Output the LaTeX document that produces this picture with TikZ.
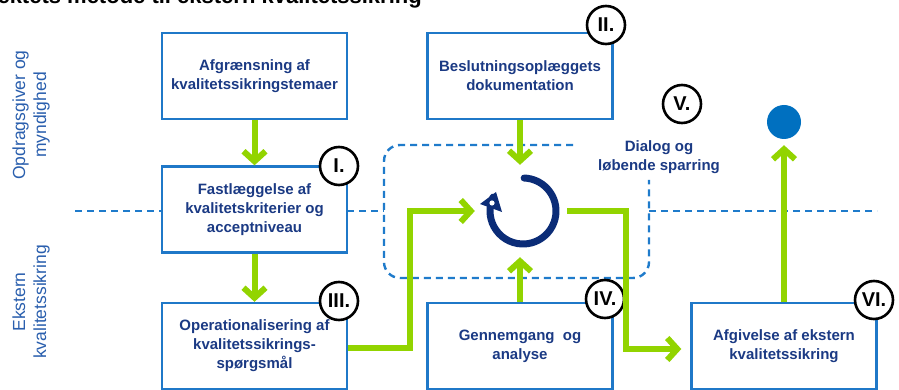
\documentclass[tikz,border=0pt]{standalone}
\usepackage{fontspec}
\setmainfont{Liberation Sans}
\usetikzlibrary{arrows.meta,calc}
\definecolor{boxblue}{HTML}{1F78C8}
\definecolor{dashblue}{HTML}{1F7BCB}
\definecolor{navytext}{HTML}{1B3A84}
\definecolor{navy}{HTML}{0B2C77}
\definecolor{lime}{HTML}{92D400}
\definecolor{sideblue}{HTML}{2A5FAE}
\definecolor{dotblue}{HTML}{0070C0}
\tikzset{
  stepbox/.style={draw=boxblue, line width=2.4pt, fill=white, minimum width=185pt,
    minimum height=86pt, inner sep=0pt, align=center, text=navytext,
    font=\bfseries\fontsize{15}{19}\selectfont},
  numlabel/.style={circle, draw=black, line width=2.6pt, fill=white, minimum size=38pt,
    inner sep=0pt, font=\bfseries\fontsize{20}{22}\selectfont},
  flow/.style={draw=lime, line width=6pt, -{Straight Barb[length=10pt,width=22pt]}},
  dline/.style={draw=dashblue, line width=2.4pt, dash pattern=on 7pt off 5pt},
  side/.style={rotate=90, align=center, text=sideblue, font=\fontsize{17.5}{21}\selectfont},
}
\begin{document}
\begin{tikzpicture}[x=1pt,y=-1pt]
\useasboundingbox (0,0) rectangle (899,390);
\clip (0,0) rectangle (899,390);
\fill[white] (0,0) rectangle (899,390);

% title (cut off at the top, as in the reference)
\node[anchor=base east, inner sep=0pt, font=\bfseries\fontsize{22}{24}\selectfont] (title) at (422,3.5) {Projektets metode til ekstern kvalitetssikring};

% side labels
\node[side] (sidetop) at (31,115) {Opdragsgiver og\\myndighed};
\node[side] (sidebot) at (31,302) {Ekstern\\kvalitetssikring};

% dashed lines
\coordinate (dl0) at (75,211);
\coordinate (dl1) at (162,211);
\coordinate (dl2) at (347,211);
\coordinate (dl3) at (384,211);
\coordinate (dl4) at (649,211);
\coordinate (dl5) at (877,211);
\draw[dline] (dl0) -- (dl1);
\draw[dline] (dl2) -- (dl3);
\draw[dline] (dl4) -- (dl5);
\coordinate (rr0) at (573,145);
\coordinate (rr1) at (384,278);
\coordinate (rr2) at (649,180);
\draw[dline, rounded corners=16pt] (rr0) -| (rr1) -| (rr2);

% boxes
\node[stepbox] (bA) at (254.5,76) {Afgrænsning af\\kvalitetssikringstemaer};
\node[stepbox] (b1) at (254.5,209.5) {Fastlæggelse af\\kvalitetskriterier og\\acceptniveau};
\node[stepbox] (b3) at (254.5,346) {Operationalisering af\\kvalitetssikrings-\\spørgsmål};
\node[stepbox] (b2) at (520,76) {Beslutningsoplæggets\\dokumentation};
\node[stepbox] (b4) at (520,346) {Gennemgang\ \ og\\analyse};
\node[stepbox] (b6) at (784,346) {Afgivelse af ekstern\\kvalitetssikring};

% dialog text
\node[align=center, text=navytext, font=\bfseries\fontsize{15}{19}\selectfont] (dialog) at (659,157) {Dialog og\\løbende sparring};

% blue dot
\node[circle, fill=dotblue, minimum size=34pt, inner sep=0pt] (dot) at (784,122) {};

% cycle icon
\node[circle, minimum size=92pt, inner sep=0pt] (cyc) at (521,211) {};
\draw[navy, line width=7pt, line cap=round] ([shift={(88:33pt)}]523,211) arc[start angle=88, end angle=-205, radius=33pt];
\fill[navy] (480,204) -- (496,192) -- (502,212) -- cycle;
\fill[white] (492,203) circle (2.6pt);

% number labels
\node[numlabel] (c1) at (339,166) {I.};
\node[numlabel] (c2) at (606,25) {II.};
\node[numlabel] (c3) at (339,301) {III.};
\node[numlabel] (c4) at (605,299) {IV.};
\node[numlabel] (c5) at (682,104) {V.};
\node[numlabel] (c6) at (874,300) {VI.};

% green flows
\draw[flow] (bA.south) -- (b1.north);
\draw[flow] (b1.south) -- (b3.north);
\draw[flow] (b2.south) -- (b2.south |- cyc.north);
\draw[flow] (b4.north) -- (b4.north |- cyc.south);
\draw[flow] ([yshift=-2pt]b3.east) -- ++(62,0) |- (cyc.west);
\draw[flow, shorten >=9pt] (cyc.east) -- ++(59,0) |- ([yshift=-3pt]b6.west);
\draw[flow, shorten >=6pt] (b6.north) -- (dot.south);
\end{tikzpicture}
\end{document}
